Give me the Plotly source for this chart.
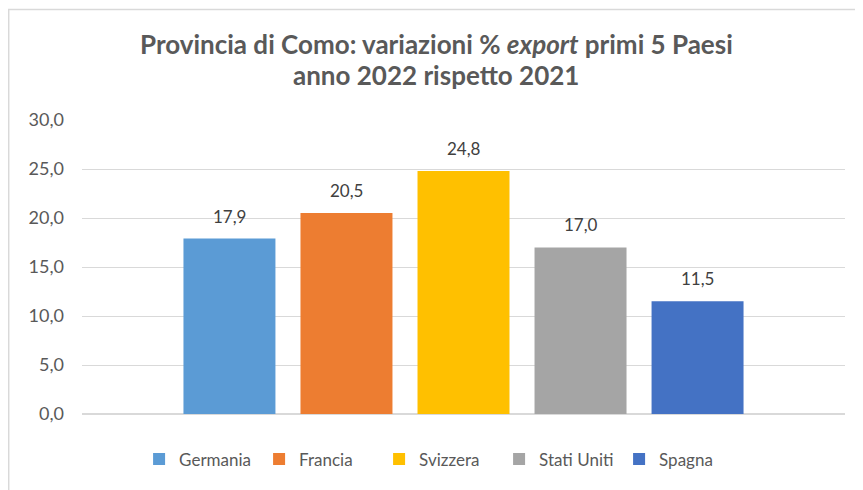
import plotly.graph_objects as go

paesi = ["Germania", "Francia", "Svizzera", "Stati Uniti", "Spagna"]
variazioni = [17.9, 20.5, 24.8, 17.0, 11.5]
colori = ["#5B9BD5", "#ED7D31", "#FFC000", "#A5A5A5", "#4472C4"]
y_ticks = [0, 5, 10, 15, 20, 25, 30]
titolo = ["Provincia di Como: variazioni % <i>export</i> primi 5 Paesi",
          "anno 2022 rispetto 2021"]

FONT = "Lato"

fig = go.Figure()
for p, v, c in zip(paesi, variazioni, colori):
    fig.add_trace(go.Bar(
        x=[p], y=[v], name=p, marker=dict(color=c, line=dict(width=0)),
        hoverinfo="x+y",
    ))

for p, v in zip(paesi, variazioni):
    fig.add_annotation(
        x=p, y=v, xref="x", yref="y", text=f"{v:.1f}".replace(".", ","),
        showarrow=False, yanchor="bottom", yshift=10,
        font=dict(family=FONT, size=17, color="#404040"),
    )

for riga, ypos in zip(titolo, [1.257, 1.152]):
    fig.add_annotation(
        x=0.464, y=ypos, xref="paper", yref="paper", text=f"<b>{riga}</b>",
        showarrow=False, xanchor="center", yanchor="middle",
        font=dict(family=FONT, size=26, color="#595959"),
    )

fig.update_layout(
    width=855, height=482,
    margin=dict(l=74, r=18, t=112, b=74),
    paper_bgcolor="white", plot_bgcolor="white",
    separators=",.",
    barmode="overlay", bargap=0.214,
    xaxis=dict(type="category", range=[-1.26, 5.26], showticklabels=False,
               showgrid=False, zeroline=False, showline=False),
    yaxis=dict(
        range=[0, 30], tickvals=y_ticks, tickformat=".1f",
        showgrid=True, gridcolor="#d9d9d9", gridwidth=1,
        zeroline=True, zerolinecolor="#d9d9d9", zerolinewidth=2,
        showline=False, ticks="", ticklabelstandoff=17,
        tickfont=dict(family=FONT, size=18, color="#595959"),
    ),
    showlegend=True,
    legend=dict(
        orientation="h", x=0.468, xanchor="center", y=-0.155, yanchor="middle",
        font=dict(family=FONT, size=17, color="#595959"),
        traceorder="normal", itemwidth=30, entrywidth=75, entrywidthmode="pixels",
    ),
    shapes=[dict(type="rect", xref="paper", yref="paper",
                 x0=(0.7 - 74) / 763, x1=1.2, y0=-0.4, y1=(408 - 0.7) / 296,
                 line=dict(color="#d9d9d9", width=1.5), fillcolor="rgba(0,0,0,0)", layer="below")],
)

fig.write_html("out.html")
